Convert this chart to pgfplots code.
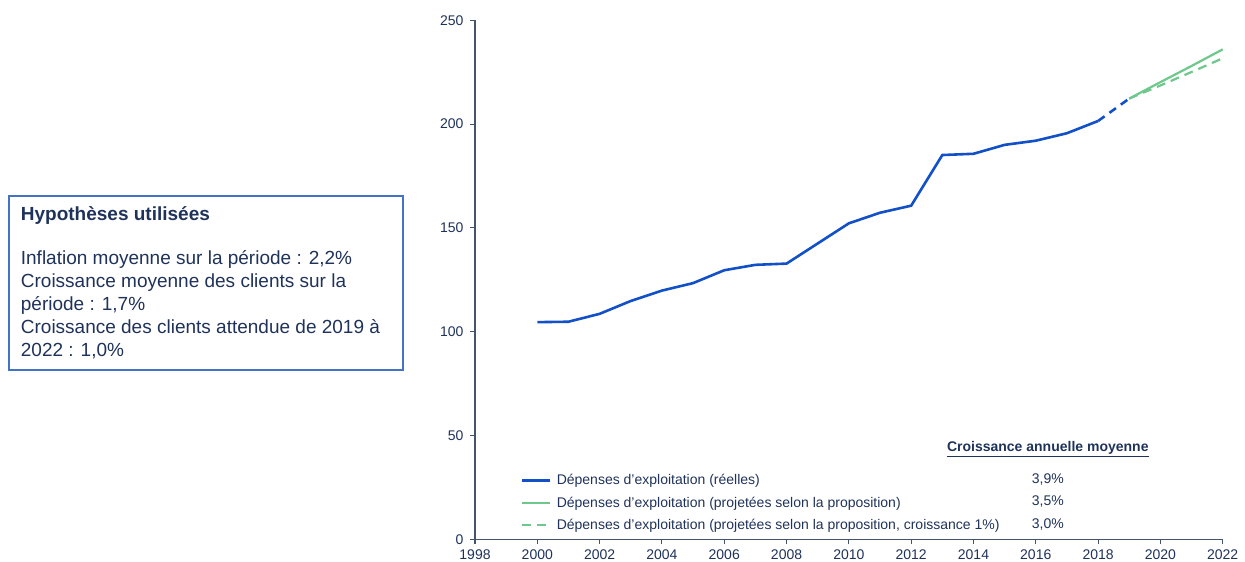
\documentclass[border=0pt]{standalone}
\usepackage{pgfplots}
\pgfplotsset{compat=1.18}
\usepackage{fontspec}
\setmainfont{Liberation Sans}
\definecolor{txt}{RGB}{31,50,90}
\definecolor{axcol}{RGB}{68,84,106}
\definecolor{reel}{RGB}{18,80,200}
\definecolor{proj}{RGB}{110,200,140}
\definecolor{boxblue}{RGB}{68,114,196}

\begin{document}
\begin{tikzpicture}
\path[use as bounding box] (0pt,0pt) rectangle (1245pt,562pt);

% encadre des hypotheses
\draw[boxblue, line width=1.2pt] (9pt,366pt) rectangle (403pt,192pt);
\begin{scope}[every node/.style={anchor=base west, inner sep=0pt, text=txt, font=\fontsize{19}{23}\selectfont}]
\node at (20.7pt,341pt) {\bfseries Hypothèses utilisées};
\node at (20.7pt,297pt) {Inflation moyenne sur la période : 2,2\%};
\node at (20.7pt,274pt) {Croissance moyenne des clients sur la};
\node at (20.7pt,251pt) {période : 1,7\%};
\node at (20.7pt,228pt) {Croissance des clients attendue de 2019 à};
\node at (20.7pt,205pt) {2022 : 1,0\%};
\end{scope}

\begin{axis}[
  at={(475pt,22.7pt)}, anchor=south west,
  scale only axis,
  width=747.7pt, height=519pt,
  xmin=1998, xmax=2022,
  ymin=0, ymax=250,
  xtick={1998,2000,...,2022},
  ytick={0,50,...,250},
  axis x line*=bottom, axis y line*=left,
  axis line style={axcol, line width=1.3pt, -},
  tick style={axcol, line width=1.1pt},
  tick align=outside,
  major tick length=5pt,
  /pgf/number format/1000 sep={},
  /pgf/number format/assume math mode=true,
  ticklabel style={font=\fontsize{14}{16}\selectfont, text=txt},
  yticklabel style={xshift=-3pt},
  xticklabel style={yshift=-2pt},
  clip=false,
  legend style={at={(0.0615,0.129)}, anchor=north west, draw=none, fill=none,
    inner sep=0pt, row sep=6.5pt, font=\fontsize{14}{16}\selectfont, text=txt,
    cells={anchor=west}},
  legend image code/.code={\draw[#1] (0pt,0pt) -- (28pt,0pt); \path (31pt,0pt);},
]
\addplot[reel, line width=2.6pt] coordinates {
 (2000,104.6) (2001,104.8) (2002,108.6) (2003,114.8) (2004,119.8)
 (2005,123.4) (2006,129.6) (2007,132.2) (2008,132.8) (2009,142.5)
 (2010,152.2) (2011,157.3) (2012,160.7) (2013,185.1) (2014,185.7)
 (2015,190.0) (2016,192.0) (2017,195.6) (2018,201.5)};
\addlegendentry{Dépenses d'exploitation (réelles)}
\addplot[proj, line width=2.2pt] coordinates {
 (2019,212.3) (2020,220.2) (2021,228.0) (2022,236.0)};
\addlegendentry{Dépenses d'exploitation (projetées selon la proposition)}
\addplot[proj, line width=2.2pt, dash pattern=on 9pt off 6pt] coordinates {
 (2019,212.3) (2020,218.6) (2021,225.1) (2022,231.7)};
\addlegendentry{Dépenses d'exploitation (projetées selon la proposition, croissance 1\%)}
\addplot[reel, line width=2.6pt, dash pattern=on 8pt off 6pt, forget plot] coordinates {
 (2018,201.5) (2019,212.3)};
\end{axis}

\begin{scope}[every node/.style={inner sep=0pt, text=txt, font=\fontsize{14}{16}\selectfont}]
\node[anchor=base] at (1047.8pt,110pt) {\bfseries\underline{Croissance annuelle moyenne}};
\node[anchor=base] at (1047.8pt,78pt) {3,9\%};
\node[anchor=base] at (1047.8pt,56pt) {3,5\%};
\node[anchor=base] at (1047.8pt,33pt) {3,0\%};
\end{scope}
\end{tikzpicture}
\end{document}
